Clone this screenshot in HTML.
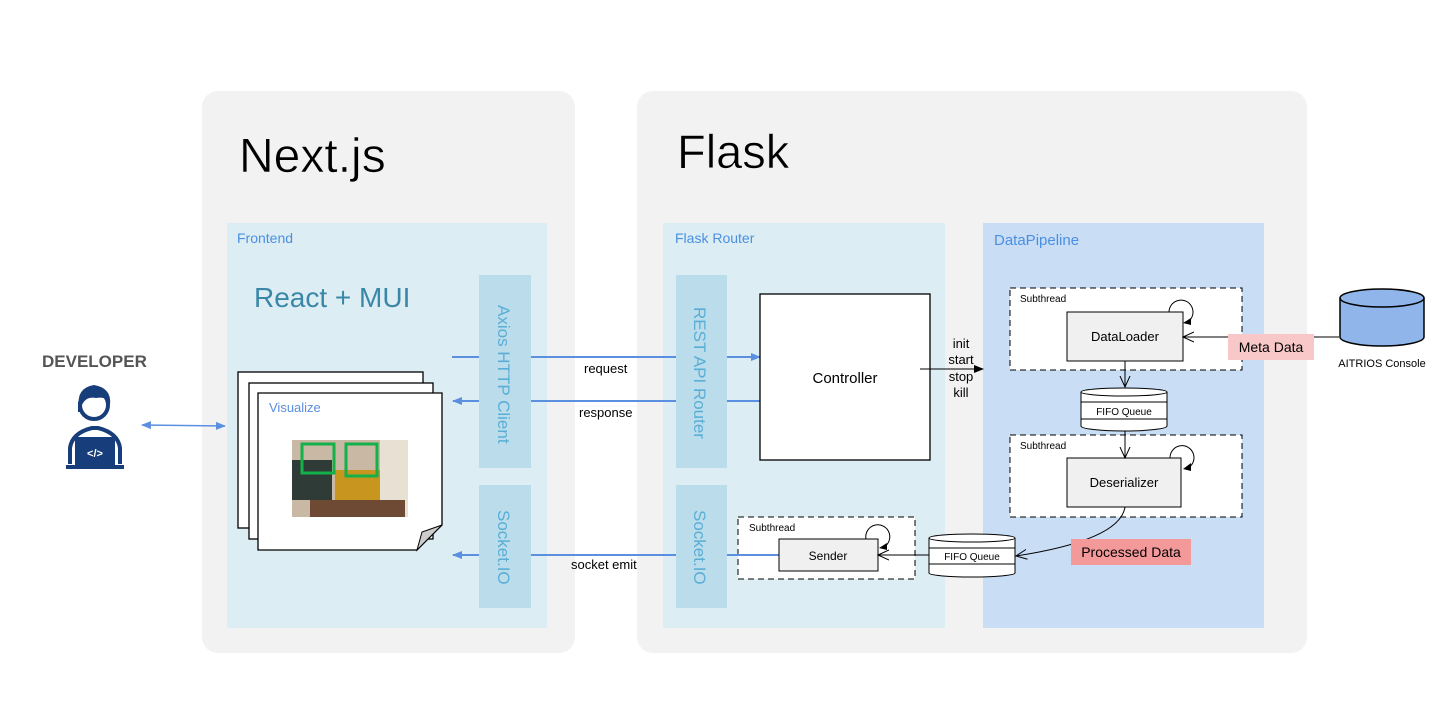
<!DOCTYPE html>
<html><head><meta charset="utf-8"><style>
html,body{margin:0;padding:0;background:#fff;}
svg{display:block;font-family:"Liberation Sans",Arial,sans-serif;}
</style></head><body>
<svg width="1453" height="726" viewBox="0 0 1453 726" xmlns="http://www.w3.org/2000/svg">
<defs>
<marker id="ab" markerWidth="10" markerHeight="10" refX="9" refY="5" orient="auto" markerUnits="userSpaceOnUse"><path d="M0,1 L10,5 L0,9 z" fill="#5b8fe0"/></marker>
<marker id="abs" markerWidth="10" markerHeight="10" refX="1" refY="5" orient="auto" markerUnits="userSpaceOnUse"><path d="M10,1 L0,5 L10,9 z" fill="#5b8fe0"/></marker>
<marker id="ak" markerWidth="10" markerHeight="10" refX="9" refY="5" orient="auto" markerUnits="userSpaceOnUse"><path d="M0,1 L10,5 L0,9 z" fill="#000"/></marker>
<marker id="ao" markerWidth="12" markerHeight="12" refX="11" refY="6" orient="auto" markerUnits="userSpaceOnUse"><path d="M0,1 L11,6 L0,11" fill="none" stroke="#000" stroke-width="1"/></marker>
</defs>
<rect width="1453" height="726" fill="#fff"/>
<rect x="202" y="91" width="373" height="562" rx="16" fill="#f2f2f2"/>
<rect x="637" y="91" width="670" height="562" rx="16" fill="#f2f2f2"/>
<text x="239" y="172" font-size="48" fill="#000" stroke="#f2f2f2" stroke-width="0.6">Next.js</text>
<text x="677" y="168" font-size="47" fill="#000" stroke="#f2f2f2" stroke-width="0.6">Flask</text>
<rect x="227" y="223" width="320" height="405" fill="#ddedf4"/>
<rect x="663" y="223" width="282" height="405" fill="#ddedf4"/>
<rect x="983" y="223" width="281" height="405" fill="#c9ddf5"/>
<text x="237" y="243" font-size="14" fill="#4a90e2">Frontend</text>
<text x="675" y="243" font-size="14" fill="#4a90e2">Flask Router</text>
<text x="994" y="245" font-size="15" fill="#4a90e2">DataPipeline</text>
<text x="254" y="307" font-size="28" fill="#3a87a8">React + MUI</text>
<line x1="452" y1="357" x2="760" y2="357" stroke="#5b8fe0" stroke-width="2" marker-end="url(#ab)"/>
<line x1="760" y1="401" x2="453" y2="401" stroke="#5b8fe0" stroke-width="2" marker-end="url(#ab)"/>
<line x1="780" y1="555" x2="453" y2="555" stroke="#5b8fe0" stroke-width="2" marker-end="url(#ab)"/>
<rect x="479" y="275" width="52" height="193" fill="#bbdcea"/>
<rect x="479" y="485" width="52" height="123" fill="#bbdcea"/>
<rect x="676" y="275" width="51" height="193" fill="#bbdcea"/>
<rect x="676" y="485" width="51" height="123" fill="#bbdcea"/>
<text transform="translate(498,305) rotate(90)" font-size="17" fill="#5aaed6">Axios HTTP Client</text>
<text transform="translate(498,510) rotate(90)" font-size="17" fill="#5aaed6">Socket.IO</text>
<text transform="translate(694,307) rotate(90)" font-size="17" fill="#5aaed6">REST API Router</text>
<text transform="translate(694,510) rotate(90)" font-size="17" fill="#5aaed6">Socket.IO</text>
<text x="584" y="373" font-size="13">request</text>
<text x="579" y="417" font-size="13">response</text>
<text x="571" y="569" font-size="13">socket emit</text>
<rect x="760" y="294" width="170" height="166" fill="#fff" stroke="#000" stroke-width="1.3"/>
<text x="845" y="383" font-size="15" text-anchor="middle">Controller</text>
<line x1="920" y1="369" x2="983" y2="369" stroke="#000" stroke-width="1" marker-end="url(#ak)"/>
<g font-size="13" text-anchor="middle"><text x="961" y="348">init</text><text x="961" y="364">start</text><text x="961" y="381">stop</text><text x="961" y="397">kill</text></g>
<!-- developer -->
<text x="42" y="367" font-size="17" font-weight="bold" fill="#555">DEVELOPER</text>
<g fill="none" stroke="#173d7a" stroke-width="4">
<circle cx="94" cy="405" r="14"/>
<path d="M70,464 L70,448 Q72,433 92,428 L98,428 Q118,433 120,448 L120,464"/>
</g>
<path d="M79,407 Q76,388 94,385 Q112,388 110,405 Q108,396 96,398 Q86,396 82,405 Z" fill="#173d7a"/>
<path d="M78,412 L82,412 L82,400 L78,402Z" fill="#173d7a"/>
<rect x="75" y="437" width="40" height="29" fill="#173d7a"/>
<rect x="66" y="465" width="58" height="4" fill="#173d7a"/>
<text x="95" y="457" font-size="11" fill="#fff" text-anchor="middle" font-weight="bold">&lt;/&gt;</text>
<line x1="142" y1="425" x2="225" y2="426" stroke="#5b8fe0" stroke-width="1.5" marker-start="url(#abs)" marker-end="url(#ab)"/>
<rect x="238" y="372" width="185" height="156" fill="#fff" stroke="#000" stroke-width="1.3"/>
<rect x="249" y="383" width="184" height="156" fill="#fff" stroke="#000" stroke-width="1.3"/>
<path d="M258,393 L442,393 L442,525 L417,550 L258,550 Z" fill="#fff" stroke="#000" stroke-width="1.3"/>
<path d="M442,525 L417,550 L422,532 Z" fill="#ccc" stroke="#000" stroke-width="1"/>
<text x="269" y="412" font-size="13" fill="#5b8fe0">Visualize</text>
<rect x="292" y="440" width="116" height="77" fill="#c9b9a4"/>
<rect x="292" y="460" width="40" height="40" fill="#2e3b36"/>
<rect x="335" y="470" width="50" height="35" fill="#c8951e"/>
<rect x="380" y="440" width="28" height="77" fill="#e8e0d2"/>
<rect x="310" y="500" width="95" height="17" fill="#6e4a35"/>
<rect x="302" y="444" width="32" height="29" fill="none" stroke="#14b04a" stroke-width="3"/>
<rect x="346" y="444" width="31" height="32" fill="none" stroke="#14b04a" stroke-width="3"/>
<rect x="1010" y="288" width="232" height="82" fill="#fff" stroke="#000" stroke-dasharray="6,4"/>
<text x="1020" y="302" font-size="10">Subthread</text>
<rect x="1067" y="312" width="116" height="49" fill="#f0f0f0" stroke="#000"/>
<text x="1125" y="341" font-size="13" text-anchor="middle">DataLoader</text>
<path d="M1169,312 A12,12 0 1 1 1186,323" fill="none" stroke="#000"/>
<path d="M1183,323 L1191,318 L1191,325 Z" fill="#000"/>
<rect x="1010" y="435" width="232" height="82" fill="#fff" stroke="#000" stroke-dasharray="6,4"/>
<text x="1020" y="449" font-size="10">Subthread</text>
<rect x="1067" y="458" width="114" height="49" fill="#f0f0f0" stroke="#000"/>
<text x="1124" y="487" font-size="13" text-anchor="middle">Deserializer</text>
<path d="M1170,458 A12,12 0 1 1 1186,469" fill="none" stroke="#000"/>
<path d="M1183,469 L1191,463 L1191,471 Z" fill="#000"/>
<line x1="1125" y1="361" x2="1125" y2="387" stroke="#000" marker-end="url(#ao)"/>
<line x1="1125" y1="431" x2="1125" y2="458" stroke="#000" marker-end="url(#ao)"/>
<g stroke="#000" fill="#fff">
<path d="M1081,392 L1081,426 A43,5 0 0 0 1167,426 L1167,392"/>
<ellipse cx="1124" cy="392" rx="43" ry="4"/>
<line x1="1081" y1="402" x2="1167" y2="402"/><line x1="1081" y1="419" x2="1167" y2="419"/>
</g>
<text x="1124" y="415" font-size="10" text-anchor="middle">FIFO Queue</text>
<path d="M1125,507 Q1120,540 1016,556" fill="none" stroke="#000" marker-end="url(#ao)"/>
<rect x="1071" y="539" width="120" height="26" fill="#f4999a"/>
<text x="1131" y="557" font-size="14" text-anchor="middle">Processed Data</text>
<line x1="1339" y1="337" x2="1183" y2="337" stroke="#000" marker-end="url(#ao)"/>
<rect x="1228" y="334" width="86" height="26" fill="#f8c8c8"/>
<text x="1271" y="352" font-size="14" text-anchor="middle">Meta Data</text>
<g stroke="#000" stroke-width="1.5" fill="#8fb5eb">
<path d="M1340,298 L1340,337 A42,9 0 0 0 1424,337 L1424,298"/>
<ellipse cx="1382" cy="298" rx="42" ry="9"/>
</g>
<text x="1382" y="367" font-size="11" text-anchor="middle">AITRIOS Console</text>
<rect x="738" y="517" width="177" height="62" fill="#fff" stroke="#000" stroke-dasharray="6,4"/>
<text x="749" y="531" font-size="10">Subthread</text>
<line x1="727" y1="555" x2="780" y2="555" stroke="#5b8fe0" stroke-width="2"/>
<rect x="779" y="539" width="99" height="32" fill="#f0f0f0" stroke="#000"/>
<text x="828" y="560" font-size="12" text-anchor="middle">Sender</text>
<path d="M866,539 A12,12 0 1 1 882,548" fill="none" stroke="#000"/>
<path d="M879,548 L887,543 L887,550 Z" fill="#000"/>
<line x1="929" y1="555" x2="878" y2="555" stroke="#000" marker-end="url(#ao)"/>
<g stroke="#000" fill="#fff">
<path d="M929,538 L929,573 A43,4 0 0 0 1015,573 L1015,538"/>
<ellipse cx="972" cy="538" rx="43" ry="4"/>
<line x1="929" y1="548" x2="1015" y2="548"/><line x1="929" y1="564" x2="1015" y2="564"/>
</g>
<text x="972" y="560" font-size="10" text-anchor="middle">FIFO Queue</text>
</svg>
</body></html>
